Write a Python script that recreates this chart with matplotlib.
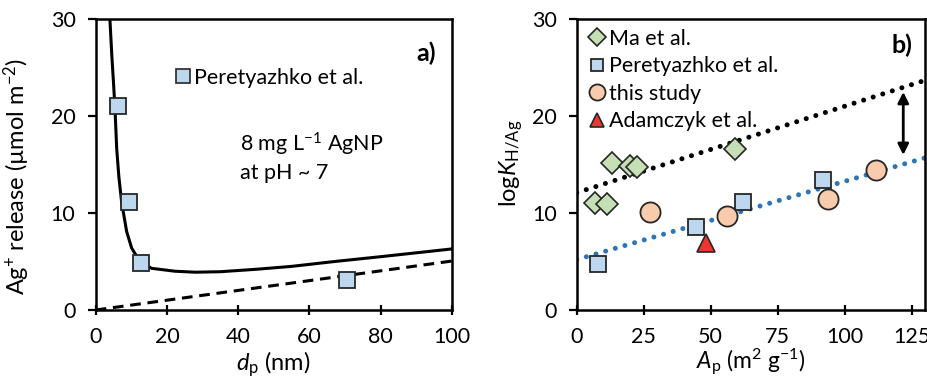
import matplotlib
matplotlib.use("Agg")
import matplotlib.pyplot as plt

plt.rcParams["font.family"] = ["Lato", "DejaVu Sans"]
plt.rcParams["mathtext.fontset"] = "custom"
plt.rcParams["mathtext.rm"] = "Lato"
plt.rcParams["mathtext.it"] = "Lato:italic"
plt.rcParams["font.size"] = 15.5

# panel a: Ag+ release vs particle diameter
peretyazkoD = [6.2, 9.3, 12.8, 70.5]
peretyazkoRelease = [21.0, 11.1, 4.85, 3.1]
fitD = [4.0, 4.5, 5.0, 5.4, 5.9, 6.5, 7.3, 8.7, 10.1, 12.4, 15.7, 22.3, 28, 35, 45, 55, 67, 80, 90, 100]
fitRelease = [30, 26.5, 23.5, 21, 16.7, 13.8, 11.1, 8.1, 6.4, 5.0, 4.3, 4.0, 3.9, 3.95, 4.2, 4.5, 5.0, 5.5, 5.9, 6.3]
linearD = [0, 100]
linearRelease = [0, 5.05]

# panel b: logK vs specific surface area
maA = [6.8, 11.2, 13.0, 19.9, 22.4, 59.1]
maLogK = [11.0, 10.9, 15.15, 14.9, 14.8, 16.6]
peretA = [8.1, 44.4, 62.2, 92.0]
peretLogK = [4.7, 8.6, 11.1, 13.4]
studyA = [27.4, 56.0, 93.9, 111.9]
studyLogK = [10.1, 9.75, 11.47, 14.46]
adamA = [48.1]
adamLogK = [6.9]
upperTrendA = [0, 130]
upperTrendLogK = [12.1, 23.7]
lowerTrendA = [0, 130]
lowerTrendLogK = [5.2, 15.7]
arrowA = 121.9
arrowLogK = [22.5, 16.0]

edge = "#262626"
blueFill = "#bdd7ee"
greenFill = "#c5e0b4"
peachFill = "#f8cbad"
redFill = "#f03434"
dotBlue = "#2e75b6"

fig = plt.figure(figsize=(9.27, 3.78), dpi=100)
axA = fig.add_axes([0.1032, 0.1799, 0.3841, 0.7691])
axB = fig.add_axes([0.6221, 0.1799, 0.3757, 0.7691])

for ax in (axA, axB):
    for s in ax.spines.values():
        s.set_linewidth(1.8)
        s.set_color("black")
    ax.tick_params(width=1.6, labelsize=15.5)
    ax.tick_params(axis="x", direction="inout", length=7, pad=9)
    ax.tick_params(axis="y", direction="out", length=5.5, pad=9)

# panel a
axA.plot(fitD, fitRelease, color="black", lw=2.2, zorder=2)
axA.plot(linearD, linearRelease, color="black", lw=2.2, ls=(0, (3.5, 2.2)), zorder=2)
axA.plot(peretyazkoD, peretyazkoRelease, ls="none", marker="s", markersize=11,
         markerfacecolor=blueFill, markeredgecolor=edge, markeredgewidth=1.3, zorder=3)
axA.set_xlim(0, 100)
axA.set_ylim(0, 30)
axA.set_xticks([0, 20, 40, 60, 80, 100])
axA.set_yticks([0, 10, 20, 30])
axA.set_xlabel(r"$d_\mathrm{p}$ (nm)", fontsize=17)
axA.xaxis.set_label_coords(0.5, -0.135)
axA.set_ylabel(r"Ag$^{+}$ release (µmol m$^{-2}$)", fontsize=17)
axA.yaxis.set_label_coords(-0.18, 0.46)
axA.plot([], [], ls="none", marker="s", markersize=9.5, markerfacecolor=blueFill,
         markeredgecolor=edge, markeredgewidth=1.2, label="Peretyazhko et al.")
axA.legend(loc="center left", bbox_to_anchor=(0.22, 0.798), frameon=False, fontsize=15.5,
           handletextpad=0.15, handlelength=0.8, borderaxespad=0, borderpad=0)
axA.text(0.405, 0.526, "8 mg L$^{-1}$ AgNP\nat pH ~ 7", transform=axA.transAxes,
         fontsize=15.5, va="center", ha="left", linespacing=1.3)
axA.text(0.955, 0.884, "a)", transform=axA.transAxes, fontsize=18, fontweight="bold",
         ha="right", va="center")

# panel b
axB.plot(upperTrendA, upperTrendLogK, color="black", lw=3.6, ls=(0, (0.01, 2.0)),
         dash_capstyle="round", zorder=1)
axB.plot(lowerTrendA, lowerTrendLogK, color=dotBlue, lw=3.6, ls=(0, (0.01, 2.0)),
         dash_capstyle="round", zorder=1)
axB.plot(maA, maLogK, ls="none", marker="D", markersize=11, markerfacecolor=greenFill,
         markeredgecolor=edge, markeredgewidth=1.2, label="Ma et al.", zorder=3)
axB.plot(peretA, peretLogK, ls="none", marker="s", markersize=11, markerfacecolor=blueFill,
         markeredgecolor=edge, markeredgewidth=1.3, label="Peretyazhko et al.", zorder=3)
axB.plot(studyA, studyLogK, ls="none", marker="o", markersize=14.5, markerfacecolor=peachFill,
         markeredgecolor=edge, markeredgewidth=1.3, label="this study", zorder=3)
axB.plot(adamA, adamLogK, ls="none", marker="^", markersize=13, markerfacecolor=redFill,
         markeredgecolor=edge, markeredgewidth=1.2, label="Adamczyk et al.", zorder=3)
axB.annotate("", xy=(arrowA, arrowLogK[1]), xytext=(arrowA, arrowLogK[0]),
             arrowprops=dict(arrowstyle="<|-|>", color="black", lw=2, mutation_scale=16,
                             shrinkA=0, shrinkB=0))
axB.set_xlim(0, 130)
axB.set_ylim(0, 30)
axB.set_xticks([0, 25, 50, 75, 100, 125])
axB.set_yticks([0, 10, 20, 30])
axB.set_xlabel(r"$A_\mathrm{p}$ (m$^2$ g$^{-1}$)", fontsize=16.5)
axB.xaxis.set_label_coords(0.5, -0.128)
axB.set_ylabel(r"log$K_\mathrm{H/Ag}$", fontsize=17)
axB.yaxis.set_label_coords(-0.148, 0.506)
axB.legend(loc="upper left", bbox_to_anchor=(0.035, 0.968), frameon=False, fontsize=15.5,
           handletextpad=0.15, handlelength=0.8, borderaxespad=0, borderpad=0,
           labelspacing=0.35, markerscale=0.8)
axB.text(0.965, 0.91, "b)", transform=axB.transAxes, fontsize=18, fontweight="bold",
         ha="right", va="center")

fig.savefig("out.png", dpi=100)
